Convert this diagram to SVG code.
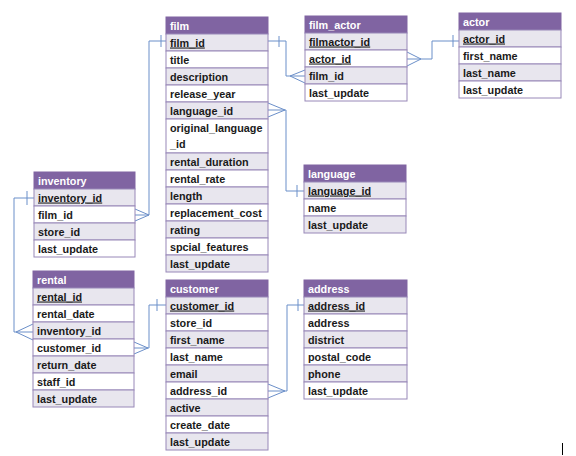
<svg xmlns="http://www.w3.org/2000/svg" width="576" height="456" viewBox="0 0 576 456">
<style>
text{font-family:"Liberation Sans",Arial,sans-serif;font-weight:bold;font-size:10.8px;fill:#1a1a1a}
.h{fill:#8064a2;stroke:#8064a2;stroke-width:1}
.ht{fill:#ffffff}
.g{fill:#e8e6ee;stroke:#9888b8;stroke-width:1}
.w{fill:#ffffff;stroke:#9888b8;stroke-width:1}
.pk{text-decoration:underline}
.c{fill:none;stroke:#6b8fc9;stroke-width:1}
</style>
<rect width="576" height="456" fill="#ffffff"/>

<g id="connectors">
  <!-- film.film_id -> film_actor.film_id -->
  <path class="c" d="M268,41 H286 V76 H305"/>
  <path class="c" d="M279,36 V47"/>
  <path class="c" d="M305,70 L290,76 L305,83"/>
  <!-- film_actor.actor_id -> actor.actor_id -->
  <path class="c" d="M407,59 H432 V41 H459"/>
  <path class="c" d="M453,35 V47"/>
  <path class="c" d="M407,52 L421,59 L407,66"/>
  <!-- film.language_id -> language.language_id -->
  <path class="c" d="M268,110 H286 V191 H304"/>
  <path class="c" d="M268,103 L285,110 L268,117"/>
  <path class="c" d="M297,185 V197"/>
  <!-- film.film_id -> inventory.film_id -->
  <path class="c" d="M166,41 H149 V215 H135"/>
  <path class="c" d="M161,35 V47"/>
  <path class="c" d="M135,209 L149,215 L135,221"/>
  <!-- inventory.inventory_id -> rental.inventory_id -->
  <path class="c" d="M34,198 H14 V332 H33"/>
  <path class="c" d="M27,191 V205"/>
  <path class="c" d="M33,324 L16,332 L33,340"/>
  <!-- rental.customer_id -> customer.customer_id -->
  <path class="c" d="M134,348 H149 V305 H166"/>
  <path class="c" d="M157,299 V311"/>
  <path class="c" d="M134,342 L148,348 L134,354"/>
  <!-- customer.address_id -> address.address_id -->
  <path class="c" d="M268,391 H287 V305 H304"/>
  <path class="c" d="M298,299 V311"/>
  <path class="c" d="M268,384 L285,391 L268,398"/>
</g>

<g id="film">
  <rect class="h" x="166" y="17" width="102" height="17"/>
  <text class="ht" x="170" y="29.5">film</text>
  <rect class="g" x="166" y="34" width="102" height="17"/><text class="pk" x="170" y="46.5">film_id</text>
  <rect class="w" x="166" y="51" width="102" height="17"/><text x="170" y="63.5">title</text>
  <rect class="g" x="166" y="68" width="102" height="17"/><text x="170" y="80.5">description</text>
  <rect class="w" x="166" y="85" width="102" height="17"/><text x="170" y="97.5">release_year</text>
  <rect class="g" x="166" y="102" width="102" height="17"/><text x="170" y="114.5">language_id</text>
  <rect class="w" x="166" y="119" width="102" height="34"/><text x="170" y="131.5">original_language</text><text x="170" y="148">_id</text>
  <rect class="g" x="166" y="153" width="102" height="17"/><text x="170" y="165.5">rental_duration</text>
  <rect class="w" x="166" y="170" width="102" height="17"/><text x="170" y="182.5">rental_rate</text>
  <rect class="g" x="166" y="187" width="102" height="17"/><text x="170" y="199.5">length</text>
  <rect class="w" x="166" y="204" width="102" height="17"/><text x="170" y="216.5">replacement_cost</text>
  <rect class="g" x="166" y="221" width="102" height="17"/><text x="170" y="233.5">rating</text>
  <rect class="w" x="166" y="238" width="102" height="17"/><text x="170" y="250.5">spcial_features</text>
  <rect class="g" x="166" y="255" width="102" height="17"/><text x="170" y="267.5">last_update</text>
</g>

<g id="film_actor">
  <rect class="h" x="305" y="16" width="102" height="17"/>
  <text class="ht" x="309" y="28.5">film_actor</text>
  <rect class="g" x="305" y="33" width="102" height="17"/><text class="pk" x="309" y="45.5">filmactor_id</text>
  <rect class="w" x="305" y="50" width="102" height="17"/><text class="pk" x="309" y="62.5">actor_id</text>
  <rect class="g" x="305" y="67" width="102" height="17"/><text x="309" y="79.5">film_id</text>
  <rect class="w" x="305" y="84" width="102" height="17"/><text x="309" y="96.5">last_update</text>
</g>

<g id="actor">
  <rect class="h" x="459" y="13" width="102" height="17"/>
  <text class="ht" x="463" y="25.5">actor</text>
  <rect class="g" x="459" y="30" width="102" height="17"/><text class="pk" x="463" y="42.5">actor_id</text>
  <rect class="w" x="459" y="47" width="102" height="17"/><text x="463" y="59.5">first_name</text>
  <rect class="g" x="459" y="64" width="102" height="17"/><text x="463" y="76.5">last_name</text>
  <rect class="w" x="459" y="81" width="102" height="17"/><text x="463" y="93.5">last_update</text>
</g>

<g id="language">
  <rect class="h" x="304" y="165" width="102" height="17"/>
  <text class="ht" x="308" y="177.5">language</text>
  <rect class="g" x="304" y="182" width="102" height="17"/><text class="pk" x="308" y="194.5">language_id</text>
  <rect class="w" x="304" y="199" width="102" height="17"/><text x="308" y="211.5">name</text>
  <rect class="g" x="304" y="216" width="102" height="17"/><text x="308" y="228.5">last_update</text>
</g>

<g id="inventory">
  <rect class="h" x="34" y="172" width="101" height="17"/>
  <text class="ht" x="38" y="184.5">inventory</text>
  <rect class="g" x="34" y="189" width="101" height="17"/><text class="pk" x="38" y="201.5">inventory_id</text>
  <rect class="w" x="34" y="206" width="101" height="17"/><text x="38" y="218.5">film_id</text>
  <rect class="g" x="34" y="223" width="101" height="17"/><text x="38" y="235.5">store_id</text>
  <rect class="w" x="34" y="240" width="101" height="17"/><text x="38" y="252.5">last_update</text>
</g>

<g id="rental">
  <rect class="h" x="33" y="271" width="101" height="17"/>
  <text class="ht" x="37" y="283.5">rental</text>
  <rect class="g" x="33" y="288" width="101" height="17"/><text class="pk" x="37" y="300.5">rental_id</text>
  <rect class="w" x="33" y="305" width="101" height="17"/><text x="37" y="317.5">rental_date</text>
  <rect class="g" x="33" y="322" width="101" height="17"/><text x="37" y="334.5">inventory_id</text>
  <rect class="w" x="33" y="339" width="101" height="17"/><text x="37" y="351.5">customer_id</text>
  <rect class="g" x="33" y="356" width="101" height="17"/><text x="37" y="368.5">return_date</text>
  <rect class="w" x="33" y="373" width="101" height="17"/><text x="37" y="385.5">staff_id</text>
  <rect class="g" x="33" y="390" width="101" height="17"/><text x="37" y="402.5">last_update</text>
</g>

<g id="customer">
  <rect class="h" x="166" y="280" width="102" height="17"/>
  <text class="ht" x="170" y="292.5">customer</text>
  <rect class="g" x="166" y="297" width="102" height="17"/><text class="pk" x="170" y="309.5">customer_id</text>
  <rect class="w" x="166" y="314" width="102" height="17"/><text x="170" y="326.5">store_id</text>
  <rect class="g" x="166" y="331" width="102" height="17"/><text x="170" y="343.5">first_name</text>
  <rect class="w" x="166" y="348" width="102" height="17"/><text x="170" y="360.5">last_name</text>
  <rect class="g" x="166" y="365" width="102" height="17"/><text x="170" y="377.5">email</text>
  <rect class="w" x="166" y="382" width="102" height="17"/><text x="170" y="394.5">address_id</text>
  <rect class="g" x="166" y="399" width="102" height="17"/><text x="170" y="411.5">active</text>
  <rect class="w" x="166" y="416" width="102" height="17"/><text x="170" y="428.5">create_date</text>
  <rect class="g" x="166" y="433" width="102" height="17"/><text x="170" y="445.5">last_update</text>
</g>

<g id="address">
  <rect class="h" x="304" y="280" width="103" height="17"/>
  <text class="ht" x="308" y="292.5">address</text>
  <rect class="g" x="304" y="297" width="103" height="17"/><text class="pk" x="308" y="309.5">address_id</text>
  <rect class="w" x="304" y="314" width="103" height="17"/><text x="308" y="326.5">address</text>
  <rect class="g" x="304" y="331" width="103" height="17"/><text x="308" y="343.5">district</text>
  <rect class="w" x="304" y="348" width="103" height="17"/><text x="308" y="360.5">postal_code</text>
  <rect class="g" x="304" y="365" width="103" height="17"/><text x="308" y="377.5">phone</text>
  <rect class="w" x="304" y="382" width="103" height="17"/><text x="308" y="394.5">last_update</text>
</g>

<line x1="562.5" y1="443" x2="562.5" y2="455" stroke="#000000" stroke-width="1"/>
</svg>
